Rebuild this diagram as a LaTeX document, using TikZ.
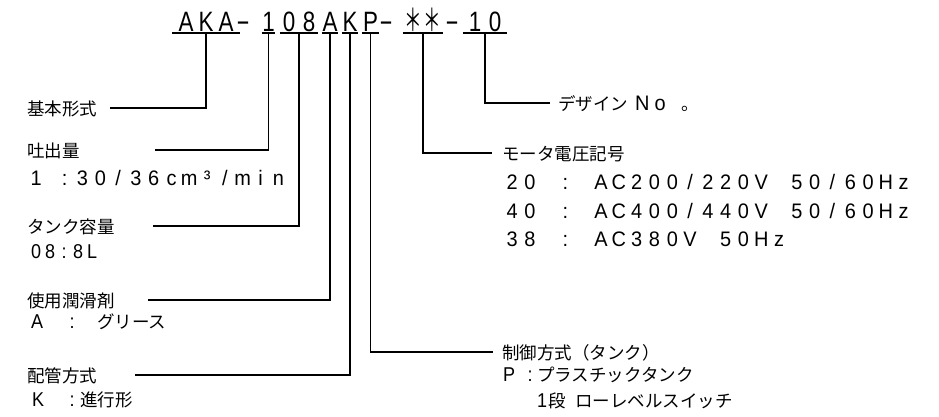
\documentclass[tikz,border=0pt]{standalone}
\usepackage{fontspec}
\usepackage{graphicx}
\newfontfamily\jpf{Noto Sans CJK JP}
\newfontfamily\latf{Liberation Sans}
\newlength\fpw
\def\fpsx{1}
\def\fpstr#1{\fploop#1\relax}
\def\fploop#1{\ifx\relax#1\else\makebox[\fpw][c]{\scalebox{\fpsx}[1]{#1}}\expandafter\fploop\fi}
\newcommand\wtxt[1]{{\latf\fontsize{21}{21}\selectfont\setlength\fpw{17.8pt}\def\fpsx{0.95}\fpstr{#1}}}
\newcommand\codetxt[1]{{\latf\fontsize{28}{28}\selectfont\setlength\fpw{20pt}\def\fpsx{0.8}\fpstr{#1}}}
\newcommand\codedash{{\latf\fontsize{28}{28}\selectfont\raisebox{1pt}{\scalebox{1.5}[1]{-}}}}
\newcommand\codestar{\makebox[19pt]{\jpf\fontsize{22}{22}\selectfont\scalebox{0.8}[1.4]{＊}}}
\newcommand\smalllat[1]{{\latf\fontsize{20}{20}\selectfont\scalebox{0.9}[1]{#1}}}
\begin{document}
\begin{tikzpicture}[x=1pt,y=-1pt,
  lbl/.style={font=\jpf\fontsize{17.5}{17.5}\selectfont,inner sep=0pt,anchor=base west},
  codebox/.style={inner xsep=0pt,inner ysep=1.5pt,anchor=south,text depth=0pt,text height=20pt},
  dashbox/.style={inner sep=0pt,anchor=base},
  uline/.style={line width=1.6pt},
  conn/.style={line width=1.6pt}]
\path[use as bounding box] (0,0) rectangle (939,416);
% code line
\node[codebox] (cAKA) at (206,33) {\makebox[68pt]{\codetxt{AKA}}};
\node[dashbox] (d1) at (243,31.5) {\codedash};
\node[codebox] (c1) at (268.5,33) {\makebox[13pt]{\codetxt{1}}};
\node[codebox] (c08) at (299,33) {\makebox[38pt]{\codetxt{08}}};
\node[codebox] (cA) at (330,33) {\makebox[16pt]{\codetxt{A}}};
\node[codebox] (cK) at (350,33) {\makebox[16pt]{\codetxt{K}}};
\node[codebox] (cP) at (370.5,33) {\makebox[17pt]{\codetxt{P}}};
\node[dashbox] (d2) at (386,31.5) {\codedash};
\node[codebox] (cST) at (423,33) {\makebox[40pt]{\codestar\codestar}};
\node[dashbox] (d3) at (452,31.5) {\codedash};
\node[codebox] (c10) at (485,33) {\makebox[44pt]{\codetxt{10}}};
\foreach \n in {cAKA,c1,c08,cA,cK,cP,cST,c10}
  \draw[uline] (\n.south west) -- (\n.south east);
% left labels
\node[lbl] (l1) at (27,115) {基本形式};
\node[lbl] (l2) at (27,157) {吐出量};
\node[lbl] (l2b) at (27,185) {\wtxt{1}\hspace{-7pt}\wtxt{~:30/36cm³/min}};
\node[lbl] (l3) at (27,233) {タンク容量};
\node[lbl] (l3b) at (29,258) {{\latf\fontsize{20}{20}\selectfont\setlength\fpw{14pt}\def\fpsx{0.9}\fpstr{08:8L}}};
\node[lbl] (l4) at (27,307) {使用潤滑剤};
\node[lbl] (l4b) at (28,328) {\makebox[18pt]{\smalllat{A}}\hspace{17pt}\makebox[18pt]{\smalllat{:}}\hspace{16pt}グリース};
\node[lbl] (l5) at (27,382) {配管方式};
\node[lbl] (l5b) at (28,406) {\makebox[20pt]{\smalllat{K}}\hspace{15pt}\makebox[18pt]{\smalllat{:}}\hspace{-1pt}進行形};
% right labels
\node[lbl] (r1) at (558,110) {デザイン\hspace{5.25pt}\wtxt{No}\hspace{12pt}。};
\node[lbl] (r2) at (502,160) {モータ電圧記号};
\node[lbl] (r2a) at (503,189) {\wtxt{20~:~AC200/220V~50/60Hz}};
\node[lbl] (r2b) at (503,218) {\wtxt{40~:~AC400/440V~50/60Hz}};
\node[lbl] (r2c) at (503,246) {\wtxt{38~:~AC380V~50Hz}};
\node[lbl] (r3) at (502,359) {制御方式（タンク）};
\node[lbl] (r3b) at (503,381) {\makebox[12pt]{\smalllat{P}}\hspace{12pt}\makebox[6pt]{\smalllat{:}}\hspace{4pt}プラスチックタンク};
\node[lbl] (r3c) at (536,407) {\makebox[12pt]{\smalllat{1}}段\hspace{9.5pt}ローレベルスイッチ};
% connector ends
\coordinate (e1) at (110,108);
\coordinate (e2) at (155,150);
\coordinate (e3) at (153,226);
\coordinate (e4) at (148,300);
\coordinate (e5) at (135,375);
\coordinate (e6) at (493,352);
\coordinate (e7) at (492,153);
\coordinate (e8) at (550,103);
\draw[conn] (cAKA.south) |- (e1);
\draw[conn] (c1.south) |- (e2);
\draw[conn] (c08.south) |- (e3);
\draw[conn] (cA.south) |- (e4);
\draw[conn] (cK.south) |- (e5);
\draw[conn] (cP.south) |- (e6);
\draw[conn] (cST.south) |- (e7);
\draw[conn] (c10.south) |- (e8);
\end{tikzpicture}
\end{document}
